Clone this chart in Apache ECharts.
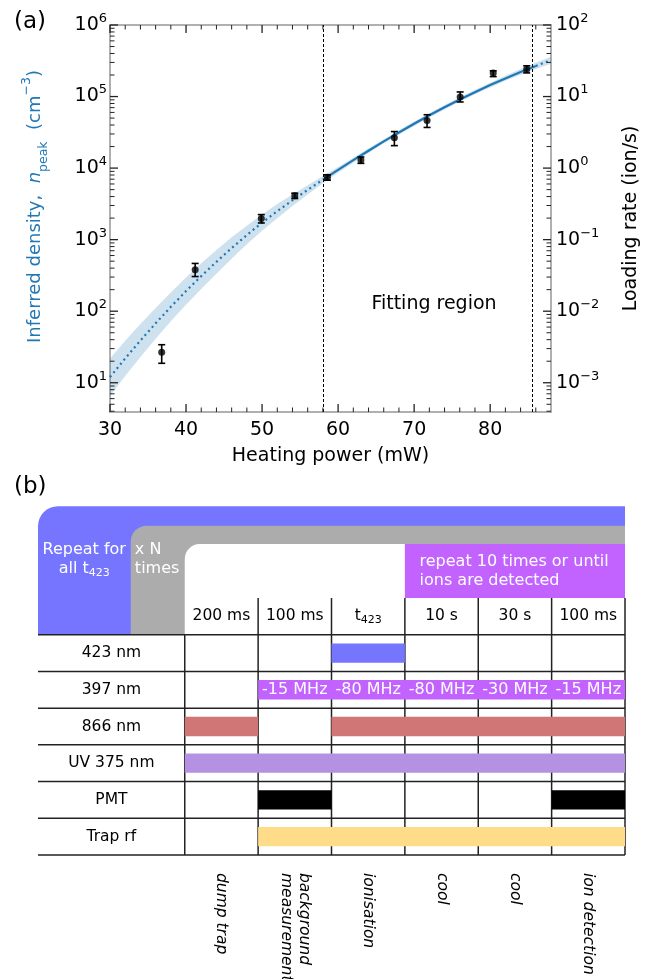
<!DOCTYPE html>
<html>
<head>
<meta charset="utf-8">
<style>
  html, body { margin: 0; padding: 0; background: #fff; }
  #chart { width: 657px; height: 979px; }
</style>
<script src="https://cdn.jsdelivr.net/npm/echarts@6/dist/echarts.min.js"></script>
</head>
<body>
<div id="chart"></div>
<script>
const FONT = 'DejaVu Sans';
const BLUE = '#1f77b4';

// (a) measured loading, shown as inferred peak density (cm^-3)
const powerMw = [36.8, 41.2, 49.9, 54.3, 58.6, 63.0, 67.4, 71.7, 76.05, 80.4, 84.8];
const densityPeak = [26.6, 380, 1970, 4100, 7460, 12970, 26500, 46400, 98700, 213000, 240000];
const densityLow = [18.7, 305, 1710, 3760, 6780, 11650, 20600, 37000, 84000, 190000, 214000];
const densityHigh = [34, 465, 2240, 4460, 8060, 14300, 32400, 55700, 116000, 229000, 269000];

// fitted curve and its confidence band
const fitPower = [30, 32, 34, 36, 38, 40, 42, 44, 46, 48, 50, 52, 54, 56, 58,
  60, 62, 64, 66, 68, 70, 72, 74, 76, 78, 80, 82, 84, 86, 88];
const fitDensity = [12.0, 21.9, 38.9, 67.6, 115, 191, 309, 490, 762, 1160, 1730, 2500, 3550, 4970, 6890,
  9460, 12900, 17500, 23600, 31500, 41700, 54700, 70800, 90800, 115000, 145000, 179000, 221000, 268000, 322000];
const bandLow = [6.6, 12.4, 22.9, 41.2, 72.4, 123, 204, 335, 540, 863, 1330, 1990, 2950, 4280, 6140,
  8630, 11900, 16200, 22000, 29400, 38900, 51100, 66100, 84700, 108000, 134000, 166000, 201000, 242000, 287000];
const bandHigh = [21.9, 38.5, 66.1, 111, 182, 295, 468, 716, 1080, 1570, 2250, 3150, 4270, 5770, 7730,
  10400, 14000, 18900, 25200, 33700, 44700, 58600, 75900, 97200, 124000, 156000, 195000, 242000, 297000, 361000];
const fitRegion = [58, 85.5];

const xMajorTicks = [30, 40, 50, 60, 70, 80];
const xMinorTicks = [32, 34, 36, 38, 42, 44, 46, 48, 52, 54, 56, 58, 62, 64, 66, 68, 72, 74, 76, 78, 82, 84, 86];
const densityExponents = [1, 2, 3, 4, 5, 6];
const rateExponents = [-3, -2, -1, 0, 1, 2];

// (b) experimental sequence
const phaseDurations = ['200 ms', '100 ms', 't423', '10 s', '30 s', '100 ms'];
const phaseNames = ['dump trap', 'background\nmeasurement', 'ionisation', 'cool', 'cool', 'ion detection'];
const channels = ['423 nm', '397 nm', '866 nm', 'UV 375 nm', 'PMT', 'Trap rf'];
const channelOn = [[[2, 3]], [[1, 6]], [[0, 1], [2, 6]], [[0, 6]], [[1, 2], [5, 6]], [[1, 6]]];
const detuning397 = ['-15 MHz', '-80 MHz', '-80 MHz', '-30 MHz', '-15 MHz'];

const CHANNEL_COLORS = ['#7575ff', '#c263ff', '#d07676', '#b491e2', '#000000', '#ffdd88'];

const log10 = Math.log10;
const yMin = 3.9;
const yMinLog = log10(yMin);
const rateScale = 1e-4;

function minorLogTicks(lo, hi) {
  const out = [];
  for (let e = lo; e < hi; e++) {
    for (let k = 2; k <= 9; k++) out.push(e + log10(k));
  }
  return out;
}

const supRich = {
  b: { fontSize: 19, lineHeight: 26, color: '#000', fontFamily: FONT },
  sup: { fontSize: 13, lineHeight: 14, verticalAlign: 'top', color: '#000', fontFamily: FONT }
};
const powerLabel = (v) => {
  const e = Math.round(v);
  return '{b|10}{sup|' + (e < 0 ? '\u2212' + (-e) : e) + '}';
};

const spine = { onZero: false, lineStyle: { color: '#b0b0b0', width: 2 } };

const xBottom = {
  gridIndex: 0, type: 'value', min: 30, max: 88, position: 'bottom',
  axisLine: spine, axisTick: { show: false }, splitLine: { show: false },
  axisLabel: { customValues: xMajorTicks, fontSize: 19, color: '#000', margin: 9, fontFamily: FONT },
  name: 'Heating power (mW)', nameLocation: 'middle', nameGap: 35,
  nameTextStyle: { fontSize: 19, color: '#000', fontFamily: FONT }
};
const xTop = {
  gridIndex: 0, type: 'value', min: 30, max: 88, position: 'top',
  axisLine: spine, axisTick: { show: false }, axisLabel: { show: false }, splitLine: { show: false }
};

const yLeft = {
  gridIndex: 0, type: 'value', min: yMinLog, max: 6, position: 'left',
  axisLine: spine, axisTick: { show: false }, splitLine: { show: false },
  axisLabel: { customValues: densityExponents, formatter: powerLabel, rich: supRich, margin: 3 },
  name: '{b|Inferred density,  }{i|n}{s|peak}{b|  (cm}{p|\u22123}{b|)}',
  nameLocation: 'middle', nameRotate: 90, nameGap: 60,
  nameTextStyle: {
    padding: [0, 0, 0, 24],
    rich: {
      b: { fontSize: 18, lineHeight: 30, color: BLUE, fontFamily: FONT },
      i: { fontSize: 18, lineHeight: 30, color: BLUE, fontFamily: FONT, fontStyle: 'italic' },
      s: { fontSize: 12.5, lineHeight: 12, verticalAlign: 'bottom', color: BLUE, fontFamily: FONT },
      p: { fontSize: 12.5, lineHeight: 14, verticalAlign: 'top', color: BLUE, fontFamily: FONT }
    }
  }
};
const yRight = {
  gridIndex: 0, type: 'value', min: log10(yMin * rateScale), max: log10(1e6 * rateScale), position: 'right',
  axisLine: spine, axisTick: { show: false }, splitLine: { show: false },
  axisLabel: { customValues: rateExponents, formatter: powerLabel, rich: supRich, margin: 5 },
  name: 'Loading rate (ion/s)', nameLocation: 'middle', nameRotate: 90, nameGap: 68,
  nameTextStyle: { fontSize: 19, lineHeight: 24, color: '#000', fontFamily: FONT }
};

const pairs = (xs, ys) => xs.map((x, i) => [x, log10(ys[i])]);
const fitPairs = pairs(fitPower, fitDensity);

function coordRect(api, x0, y0, x1, y1) {
  const a = api.coord([x0, y0]);
  const b = api.coord([x1, y1]);
  return { x: a[0], y: a[1], width: b[0] - a[0], height: b[1] - a[1] };
}

const option = {
  animation: false,
  textStyle: { fontFamily: FONT },
  grid: [
    { left: 110, right: 106, top: 25, bottom: 567 },
    { left: 38, right: 32, top: 506.2, bottom: 124 }
  ],
  xAxis: [
    xBottom,
    xTop,
    { gridIndex: 1, type: 'value', min: -2, max: 6, show: false }
  ],
  yAxis: [
    yLeft,
    yRight,
    { gridIndex: 1, type: 'value', min: -2.5, max: 7, inverse: true, show: false }
  ],
  graphic: [
    { type: 'text', x: 14, y: 22, style: { text: '(a)', fontSize: 23, fontFamily: FONT, fill: '#000', align: 'left', verticalAlign: 'middle' } },
    { type: 'text', x: 14, y: 487, style: { text: '(b)', fontSize: 23, fontFamily: FONT, fill: '#000', align: 'left', verticalAlign: 'middle' } },
    { type: 'text', x: 434, y: 304, style: { text: 'Fitting region', fontSize: 19, fontFamily: FONT, fill: '#000', align: 'center', verticalAlign: 'middle' } }
  ],
  series: [
    {
      name: 'band', type: 'custom', xAxisIndex: 0, yAxisIndex: 0, clip: true, silent: true, z: 1,
      data: [[fitPower[0], log10(fitDensity[0])]],
      renderItem: (params, api) => {
        const upper = fitPower.map((p, i) => api.coord([p, log10(bandHigh[i])]));
        const lower = fitPower.map((p, i) => api.coord([p, log10(bandLow[i])])).reverse();
        return { type: 'polygon', shape: { points: upper.concat(lower) }, style: { fill: 'rgba(31,119,180,0.22)' } };
      }
    },
    {
      name: 'fit below', type: 'line', xAxisIndex: 0, yAxisIndex: 0, z: 2, showSymbol: false, symbol: 'none',
      data: fitPairs.filter((d) => d[0] <= fitRegion[0]),
      lineStyle: { color: BLUE, width: 2.2, type: [2, 3.4] }
    },
    {
      name: 'fit', type: 'line', xAxisIndex: 0, yAxisIndex: 0, z: 2, showSymbol: false, symbol: 'none',
      data: fitPairs.filter((d) => d[0] >= fitRegion[0] && d[0] <= fitRegion[1] + 0.5),
      lineStyle: { color: BLUE, width: 2.2 }
    },
    {
      name: 'fit above', type: 'line', xAxisIndex: 0, yAxisIndex: 0, z: 2, showSymbol: false, symbol: 'none',
      data: fitPairs.filter((d) => d[0] >= fitRegion[1] + 0.5),
      lineStyle: { color: BLUE, width: 2.2, type: [2, 3.4] }
    },
    {
      name: 'error', type: 'custom', xAxisIndex: 0, yAxisIndex: 0, z: 3,
      data: powerMw.map((p, i) => [p, log10(densityLow[i]), log10(densityHigh[i])]),
      encode: { x: 0, y: [1, 2] },
      renderItem: (params, api) => {
        const x = api.value(0);
        const lo = api.coord([x, api.value(1)]);
        const hi = api.coord([x, api.value(2)]);
        const cap = 3.5;
        const style = { stroke: '#000', lineWidth: 1.6 };
        return {
          type: 'group', children: [
            { type: 'line', shape: { x1: hi[0], y1: hi[1], x2: lo[0], y2: lo[1] }, style },
            { type: 'line', shape: { x1: hi[0] - cap, y1: hi[1], x2: hi[0] + cap, y2: hi[1] }, style },
            { type: 'line', shape: { x1: lo[0] - cap, y1: lo[1], x2: lo[0] + cap, y2: lo[1] }, style }
          ]
        };
      }
    },
    {
      name: 'data', type: 'scatter', xAxisIndex: 0, yAxisIndex: 0, z: 4,
      symbol: 'circle', symbolSize: 7, itemStyle: { color: '#000' },
      data: pairs(powerMw, densityPeak),
      markLine: {
        silent: true, symbol: ['none', 'none'], label: { show: false },
        lineStyle: { color: '#000', width: 1, type: [3, 2] },
        data: fitRegion.map((x) => ({ xAxis: x }))
      }
    },
    {
      // inward major/minor ticks on all four spines (right axis is the left one scaled by 1e-4)
      name: 'ticks', type: 'custom', xAxisIndex: 0, yAxisIndex: 0, clip: false, silent: true, z: 6,
      data: [[30, 1]],
      renderItem: (params, api) => {
        const lo = api.coord([30, yMinLog]);
        const hi = api.coord([88, 6]);
        const children = [];
        const seg = (x1, y1, x2, y2, w) => children.push({
          type: 'line', shape: { x1, y1, x2, y2 }, style: { stroke: '#222', lineWidth: w }
        });
        const xt = (vals, len, w) => vals.forEach((v) => {
          const x = api.coord([v, 1])[0];
          seg(x, lo[1], x, lo[1] - len, w);
          seg(x, hi[1], x, hi[1] + len, w);
        });
        const yt = (vals, len, w) => vals.forEach((v) => {
          if (v < yMinLog || v > 6) return;
          const y = api.coord([30, v])[1];
          seg(lo[0], y, lo[0] + len, y, w);
          seg(hi[0], y, hi[0] - len, y, w);
        });
        xt(xMajorTicks, 8, 1.3);
        xt(xMinorTicks, 4.5, 1);
        yt(densityExponents, 8, 1.3);
        yt(minorLogTicks(0, 6), 4.5, 1);
        return { type: 'group', children };
      }
    },
    // (b) nested loop frame
    {
      name: 'loops', type: 'custom', xAxisIndex: 2, yAxisIndex: 2, clip: false, silent: true, z: 1,
      data: [[0, 0]],
      renderItem: (params, api) => {
        const c = (x, y) => api.coord([x, y]);
        const txt = (p, text, align) => ({
          type: 'text', x: p[0], y: p[1],
          style: {
            text, fill: '#fff', fontSize: 16, fontFamily: FONT, lineHeight: 19.5,
            align, verticalAlign: 'middle',
            rich: { sub: { fontSize: 11, lineHeight: 10, verticalAlign: 'bottom', fill: '#fff', fontFamily: FONT } }
          }
        });
        return {
          type: 'group', children: [
            { type: 'rect', shape: Object.assign(coordRect(api, -2, -2.5, 6, 1), { r: [20, 0, 0, 0] }), style: { fill: '#7575ff' } },
            { type: 'rect', shape: Object.assign(coordRect(api, -0.736, -1.97, 6, 1), { r: [16, 0, 0, 0] }), style: { fill: '#acacac' } },
            { type: 'rect', shape: Object.assign(coordRect(api, 0, -1.47, 6, 1), { r: [15, 0, 0, 0] }), style: { fill: '#ffffff' } },
            { type: 'rect', shape: coordRect(api, 3, -1.47, 6, 0), style: { fill: '#c263ff' } },
            txt(c(-1.37, -1.05), 'Repeat for\nall t{sub|423}', 'center'),
            txt(c(-0.68, -1.05), 'x N\ntimes', 'left'),
            txt(c(3.2, -0.73), 'repeat 10 times or until\nions are detected', 'left')
          ]
        };
      }
    },
    {
      name: 'table', type: 'custom', xAxisIndex: 2, yAxisIndex: 2, clip: false, silent: true, z: 2,
      data: [[0, 0]],
      renderItem: (params, api) => {
        const style = { stroke: '#222', lineWidth: 1.5 };
        const children = [];
        for (let r = 1; r <= channels.length + 1; r++) {
          const a = api.coord([-2, r]);
          const b = api.coord([phaseDurations.length, r]);
          children.push({ type: 'line', shape: { x1: a[0], y1: a[1], x2: b[0], y2: b[1] }, style });
        }
        for (let col = 0; col <= phaseDurations.length; col++) {
          const a = api.coord([col, col === 0 ? 1 : 0]);
          const b = api.coord([col, channels.length + 1]);
          children.push({ type: 'line', shape: { x1: a[0], y1: a[1], x2: b[0], y2: b[1] }, style });
        }
        return { type: 'group', children };
      }
    },
    {
      name: 'pulses', type: 'custom', xAxisIndex: 2, yAxisIndex: 2, clip: false, silent: true, z: 3,
      data: channelOn.flatMap((spans, i) => spans.map((s) => [s[0], s[1], i])),
      encode: { x: [0, 1], y: 2 },
      renderItem: (params, api) => {
        const row = api.value(2) + 1.5;
        return {
          type: 'rect',
          shape: coordRect(api, api.value(0), row - 0.263, api.value(1), row + 0.263),
          style: { fill: CHANNEL_COLORS[api.value(2)] }
        };
      }
    },
    {
      name: 'labels', type: 'custom', xAxisIndex: 2, yAxisIndex: 2, clip: false, silent: true, z: 4,
      data: [[0, 0]],
      renderItem: (params, api) => {
        const children = [];
        const text = (p, str, style, extra) => Object.assign({
          type: 'text', x: p[0], y: p[1],
          style: Object.assign({ text: str, fill: '#000', fontSize: 15.5, fontFamily: FONT, align: 'center', verticalAlign: 'middle' }, style)
        }, extra || {});
        phaseDurations.forEach((d, col) => {
          children.push(text(api.coord([col + 0.5, 0.5]), d.replace(/^t(\d+)$/, 't{sub|$1}'), {
            lineHeight: 19,
            rich: { sub: { fontSize: 11, lineHeight: 10, verticalAlign: 'bottom', fill: '#000', fontFamily: FONT } }
          }));
        });
        channels.forEach((ch, i) => {
          children.push(text(api.coord([-1, i + 1.5]), ch, {}));
        });
        detuning397.forEach((d, k) => {
          children.push(text(api.coord([k + 1.5, 2.5]), d, { fill: '#fff', fontSize: 16 }));
        });
        phaseNames.forEach((name, col) => {
          const p = api.coord([col + 0.5, channels.length + 1]);
          children.push(text([p[0], p[1] + 18], name, {
            align: 'left', fontStyle: 'italic', lineHeight: 18
          }, { rotation: -Math.PI / 2 }));
        });
        return { type: 'group', children };
      }
    }
  ]
};

const chart = echarts.init(document.getElementById('chart'), null, { renderer: 'canvas' });
chart.setOption(option);
</script>
</body>
</html>
